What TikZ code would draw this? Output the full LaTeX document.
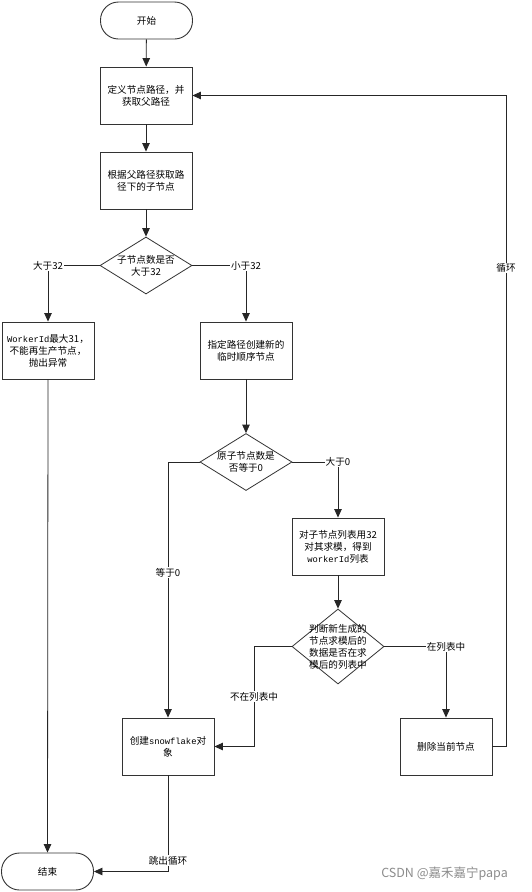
\documentclass[tikz,border=0pt]{standalone}
\usepackage{fontspec}
\newfontfamily\cjk{Noto Sans CJK SC}
\newfontfamily\mono{Liberation Mono}
\usetikzlibrary{shapes.geometric,arrows.meta}
\tikzset{
  basefont/.style={font=\cjk\fontsize{9.6}{12}\selectfont},
  stepbox/.style={draw=black!80, line width=0.9pt, minimum width=92pt, minimum height=57pt, inner sep=0pt, align=center, basefont},
  term/.style={draw=black!80, line width=0.9pt, rounded corners=18pt, minimum width=92pt, minimum height=37pt, inner sep=0pt, align=center, basefont},
  dia/.style={diamond, draw=black!80, line width=0.8pt, minimum width=92pt, minimum height=57pt, inner sep=0pt},
  diatext/.style={align=center, inner sep=0pt, basefont},
  conn/.style={draw=black!85, line width=0.8pt},
  arr/.style={conn, -{Triangle[width=7.5pt,length=8.5pt]}},
  lbl/.style={fill=white, inner sep=1pt, basefont},
}
\begin{document}
\begin{tikzpicture}[x=1pt,y=-1pt]
\useasboundingbox (0,0) rectangle (532,892);
\fill[white] (0,0) rectangle (532,892);

\node[term] (start) at (146.5,20.5) {开始};
\node[stepbox] (b1) at (146,95.5) {定义节点路径，并\\获取父路径};
\node[stepbox] (b2) at (146,180.5) {根据父路径获取路\\径下的子节点};
\node[dia] (d1) at (146,265.5) {};
\node[diatext] at (d1) {子节点数是否\\大于32};
\node[stepbox] (bl) at (48,350.5) {{\mono\fontsize{8.8}{12}\selectfont WorkerId}最大31，\\不能再生产节点，\\抛出异常};
\node[stepbox] (b3) at (246,350.5) {指定路径创建新的\\临时顺序节点};
\node[dia] (d2) at (246,462) {};
\node[diatext] at (d2) {原子节点数是\\否等于0};
\node[stepbox] (b4) at (338,546.5) {对子节点列表用32\\对其求模，得到\\{\mono\fontsize{8.8}{12}\selectfont workerId}列表};
\node[dia, minimum height=75pt] (d3) at (338,646.5) {};
\node[diatext] at (d3) {判断新生成的\\节点求模后的\\数据是否在求\\模后的列表中};
\node[stepbox] (sf) at (168,746.5) {创建{\mono\fontsize{8.8}{12}\selectfont snowflake}对\\象};
\node[stepbox] (del) at (446,746.5) {删除当前节点};
\node[term] (end) at (47.5,871.5) {结束};

\coordinate (loopx) at (506,0);
\coordinate (c3) at (254,746.5);

\draw[arr] (start) -- (b1);
\draw[arr] (b1) -- (b2);
\draw[arr] (b2) -- (d1);
\draw[arr] (d1.west) -| node[lbl, pos=0.5] {大于32} (bl.north);
\draw[arr] (d1.east) -| node[lbl, pos=0.5] {小于32} (b3.north);
\draw[arr] (bl.south) -- (end.north);
\draw[arr] (b3) -- (d2);
\draw[arr] (d2.west) -| node[lbl, pos=0.717] {等于0} (sf.north);
\draw[arr] (d2.east) -| node[lbl, pos=0.5] {大于0} (b4.north);
\draw[arr] (b4) -- (d3);
\draw[arr] (d3.west) -| node[lbl, pos=0.75] {不在列表中} (c3) -- (sf.east);
\draw[arr] (d3.east) -| node[lbl, pos=0.5] {在列表中} (del.north);
\draw[arr] (sf.south) |- node[lbl, pos=0.443] {跳出循环} (end.east);
\draw[arr] (del.east) -- (del.east -| loopx) -- node[lbl, pos=0.735] {循环} (b1.east -| loopx) -- (b1.east);

\node[anchor=east, text=black!45, font=\cjk\fontsize{12.5}{14}\selectfont, inner sep=0pt] (wm) at (508,874) {CSDN @嘉禾嘉宁papa};
\end{tikzpicture}
\end{document}
